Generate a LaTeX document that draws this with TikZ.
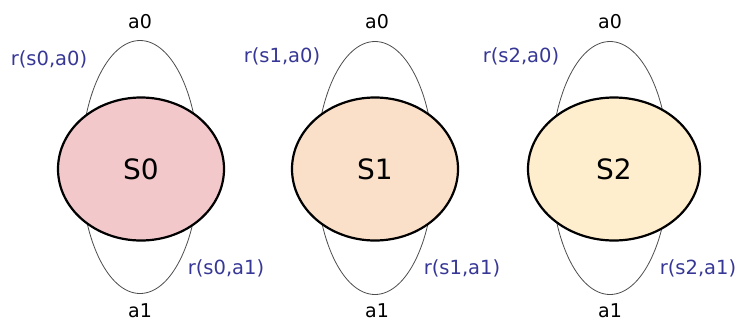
\documentclass[tikz,border=0pt]{standalone}
\usepackage{fontspec}
\setmainfont{DejaVu Sans}
\usetikzlibrary{shapes.geometric}
\definecolor{fs0}{RGB}{242,200,203}
\definecolor{fs1}{RGB}{250,224,200}
\definecolor{fs2}{RGB}{255,238,206}
\definecolor{rew}{RGB}{55,55,150}
\begin{document}
\begin{tikzpicture}[x=1pt,y=-1pt,
  state/.style={ellipse,draw=black,line width=2.2pt,minimum width=166pt,minimum height=143pt,inner sep=0pt,font=\fontsize{28}{30}\selectfont},
  loopel/.style={ellipse,draw=black!70,line width=0.8pt,minimum width=118pt,minimum height=253pt,inner sep=0pt},
  act/.style={font=\fontsize{19}{21}\selectfont,inner sep=0pt},
  rwd/.style={font=\fontsize{19.5}{21}\selectfont,text=rew,inner sep=0pt}]
\useasboundingbox (0,0) rectangle (738,325);
% loops
\node[loopel] (l0) at (140,167) {};
\node[loopel] (l1) at (375,168) {};
\node[loopel] (l2) at (610,168) {};
% states
\node[state,fill=fs0] (s0) at (141,169) {S0};
\node[state,fill=fs1] (s1) at (375,169) {S1};
\node[state,fill=fs2,minimum width=172pt] (s2) at (614,169) {S2};
% action labels
\node[act] (a00) at (140,22) {a0};
\node[act] (a01) at (140,311) {a1};
\node[act] (a10) at (377,22) {a0};
\node[act] (a11) at (377,311) {a1};
\node[act] (a20) at (610,22) {a0};
\node[act] (a21) at (610,311) {a1};
% rewards
\node[rwd] (r00) at (49,59) {r(s0,a0)};
\node[rwd] (r01) at (226,268) {r(s0,a1)};
\node[rwd] (r10) at (282,56) {r(s1,a0)};
\node[rwd] (r11) at (462,268) {r(s1,a1)};
\node[rwd] (r20) at (521,56) {r(s2,a0)};
\node[rwd] (r21) at (698,268) {r(s2,a1)};
\end{tikzpicture}
\end{document}
